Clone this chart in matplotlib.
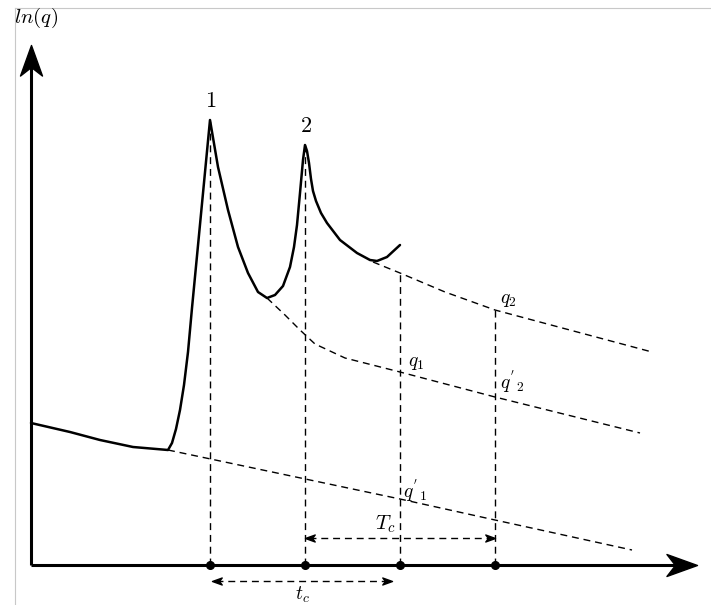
import numpy as np
import matplotlib
matplotlib.use("Agg")
import matplotlib.pyplot as plt
from matplotlib.path import Path
from matplotlib.markers import MarkerStyle
from matplotlib.transforms import Affine2D

plt.rcParams['mathtext.fontset'] = 'cm'
plt.rcParams['font.family'] = 'DejaVu Serif'

# ----------------------------- DATA (t, ln q in drawing units) -----------------------------

# main production curve: base decline, stimulation 1, stimulation 2
curve_t = [0, 39, 69, 102, 137,
           141, 145, 149, 153, 157, 161, 168, 179,
           187, 197, 207, 217, 227, 236,
           244, 252, 259, 263, 266, 269, 272, 274,
           276, 278, 280, 282, 285, 290, 296, 309, 326, 339, 346, 356, 369]
curve_v = [142, 133, 125, 118, 115,
           122, 136, 155, 180, 213, 257, 330, 445,
           398, 355, 318, 292, 273, 267,
           270, 279, 298, 318, 340, 372, 405, 420,
           414, 402, 386, 374, 364, 352, 342, 325, 312, 305, 304, 308, 320]

# extrapolated decline after first treatment (q1, q'2)
q1_t = [236, 254, 269, 284, 314, 369, 464, 609]
q1_v = [267, 250, 235, 221, 207, 193, 168, 132]

# extrapolated decline after second treatment (q2)
q2_t = [342, 369, 414, 464, 621]
q2_v = [303, 292, 273, 255, 213]

# extrapolated base decline without treatment (q'1)
base_t = [137, 369, 464, 601]
base_v = [115, 66, 45, 15]

# event times on the time axis
peak_t = [179, 274]
peak_v = [445, 420]
mark_t = [179, 274, 369, 464]
peak_labels = ['1', '2']

# ----------------------------- DRAWING -----------------------------

fig = plt.figure(figsize=(7.11, 6.05), dpi=100)
ax = fig.add_axes([0, 0, 1, 1])
ax.set_xlim(-31, 680)
ax.set_ylim(-40, 565)
ax.axis('off')

# light frame of the original screenshot
ax.plot([-16, 680], [557, 557], color='#c8c8c8', lw=0.8)
ax.plot([-16, -16], [-40, 557], color='#c8c8c8', lw=0.8)

def stealth(angle):
    verts = [(0, 0), (-1, 0.36), (-0.72, 0), (-1, -0.36), (0, 0)]
    codes = [Path.MOVETO, Path.LINETO, Path.LINETO, Path.LINETO, Path.CLOSEPOLY]
    return MarkerStyle(Path(verts, codes), transform=Affine2D().rotate_deg(angle))

# axes
ax.plot([0, 0], [0, 505], color='black', lw=2.2, solid_capstyle='butt')
ax.plot([0, 650], [0, 0], color='black', lw=2.2, solid_capstyle='butt')
ax.plot(0, 520, marker=stealth(90), ms=44, color='black')
ax.plot(666, 0, marker=stealth(0), ms=44, color='black')

dash = dict(color='black', lw=1.0, ls=(0, (5, 3.5)))

# extrapolated declines
ax.plot(q1_t, q1_v, **dash)
ax.plot(q2_t, q2_v, **dash)
ax.plot(base_t, base_v, **dash)

# vertical guide lines
tops = list(peak_v) + [np.interp(mark_t[2], q2_t, q2_v), np.interp(mark_t[3], q2_t, q2_v)]
for t, top in zip(mark_t, tops):
    ax.plot([t, t], [0, top], **dash)

# main curve
ax.plot(curve_t, curve_v, color='black', lw=1.8, solid_joinstyle='round', solid_capstyle='round')

# event dots
ax.plot(mark_t, [0] * len(mark_t), 'o', color='black', ms=5.5)

# peak labels
for t, v, lab in zip(peak_t, peak_v, peak_labels):
    ax.text(t + 1, v + 8, '$' + lab + '$', fontsize=16, ha='center', va='bottom')

# interval arrows
def interval(t0, t1, v):
    ax.plot([t0 + 4, t1 - 4], [v, v], **dash)
    ax.plot(t0, v, marker=stealth(180), ms=14, color='black')
    ax.plot(t1, v, marker=stealth(0), ms=14, color='black')

interval(mark_t[1], mark_t[3], 27)
interval(mark_t[0] + 2, 361, -16)

ax.text(344, 41, r'$T_c$', fontsize=15, ha='left', va='center')
ax.text(264, -20, r'$t_c$', fontsize=14, ha='left', va='top')

# rate labels
ax.text(-17, 547, r'$ln(q)$', fontsize=15, ha='left', va='center')
ax.text(469, 265, r'$q_2$', fontsize=14, ha='left', va='center')
ax.text(377, 202, r'$q_1$', fontsize=14, ha='left', va='center')
ax.text(469, 183, r"$q^{'}{}_2$", fontsize=14, ha='left', va='center')
ax.text(372, 74, r"$q^{'}{}_1$", fontsize=14, ha='left', va='center')

fig.savefig('out.png', dpi=100)
